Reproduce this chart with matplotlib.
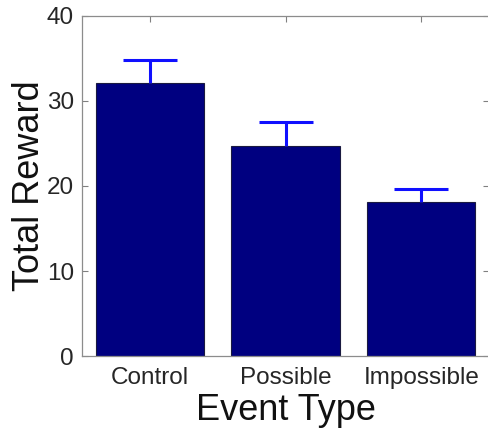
import matplotlib
matplotlib.use('Agg')
import matplotlib.pyplot as plt

## data
events = ['Control', 'Possible', 'Impossible']
reward = [32.1, 24.7, 18.1]
reward_err = [2.7, 2.8, 1.5]  # upper error only

plt.rcParams['font.family'] = ['Liberation Sans', 'DejaVu Sans']

fig = plt.figure(figsize=(4.89, 4.29), dpi=100)
ax = fig.add_axes([0.168, 0.170, 0.832, 0.793])

x = list(range(1, len(events) + 1))
ax.bar(x, reward, width=0.8, color='#000080', edgecolor='#1a1a40', linewidth=0.8, zorder=2)
_, caps, _ = ax.errorbar(x, reward, yerr=[[0] * len(reward), reward_err], fmt='none',
                         ecolor='#1010ff', elinewidth=2.2, capsize=19.5, capthick=2.2, zorder=3)
caps[0].set_visible(False)  # hide lower cap (sits on bar top)

ax.set_xlim(0.5, 3.5)
ax.set_ylim(0, 40)
ax.set_yticks([0, 10, 20, 30, 40])
ax.set_xticks(x)
ax.set_xticklabels(events)

ax.tick_params(direction='in', length=4, width=0.8, color='#808080',
               labelsize=17.5, labelcolor='#262626', top=True, right=True, pad=6)
ax.tick_params(axis='x', pad=8)
for s in ax.spines.values():
    s.set_color('#8c8c8c')
    s.set_linewidth(0.9)

ax.set_xlabel('Event Type', fontsize=26, color='#111111', labelpad=3)
ax.set_ylabel('Total Reward', fontsize=26, color='#111111', labelpad=0)

fig.savefig('out.png', dpi=100)
